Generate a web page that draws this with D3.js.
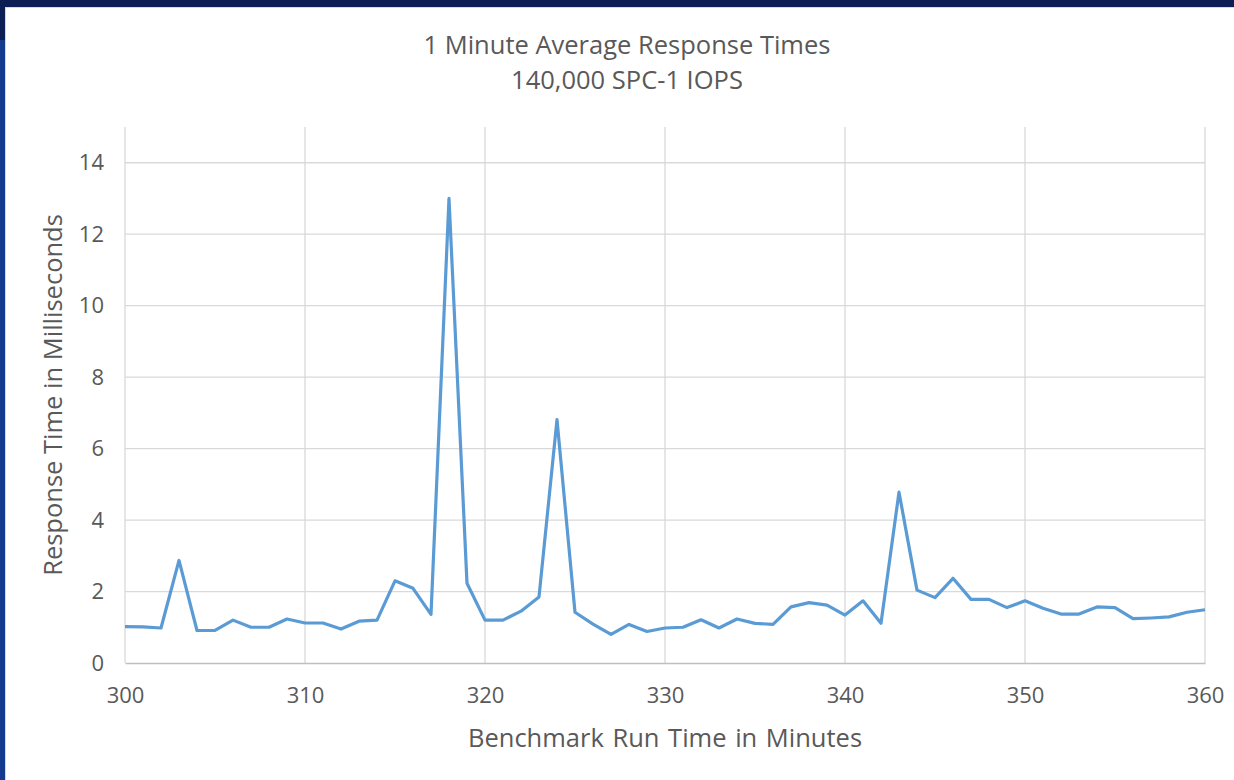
<!DOCTYPE html>
<html><head><meta charset="utf-8">
<script src="https://cdn.jsdelivr.net/npm/d3@7"></script>
<style>
html,body{margin:0;padding:0;background:#0b1f55;}
svg{display:block;}
text{font-family:"Open Sans","Noto Sans",sans-serif;fill:#595959;}
</style></head>
<body>
<script>
const minutes = d3.range(300, 361);
const responseMs = [
 1.02,1.01,0.98,2.87,0.91,0.91,1.2,1.0,1.0,1.23,
 1.12,1.12,0.95,1.17,1.2,2.3,2.09,1.36,13.0,2.23,
 1.2,1.2,1.45,1.85,6.81,1.42,1.09,0.8,1.08,0.88,
 0.98,1.0,1.21,0.98,1.23,1.11,1.08,1.57,1.69,1.62,
 1.34,1.74,1.11,4.78,2.04,1.83,2.37,1.78,1.78,1.55,
 1.74,1.53,1.37,1.37,1.57,1.55,1.24,1.26,1.29,1.42,1.49
];
const xTicks = [300,310,320,330,340,350,360];
const yTicks = [0,2,4,6,8,10,12,14];
const titleLines = ["1 Minute Average Response Times","140,000 SPC-1 IOPS"];
const xTitle = "Benchmark Run Time  in Minutes";
const yTitle = "Response Time in Milliseconds";

const W = 1234, H = 780;
const svg = d3.select("body").append("svg").attr("width", W).attr("height", H);
// frame
svg.append("rect").attr("x",0).attr("y",0).attr("width",W).attr("height",H).attr("fill","#0b1f55");
svg.append("rect").attr("x",0).attr("y",40).attr("width",6).attr("height",H-40).attr("fill","#133a8c");
svg.append("rect").attr("x",5).attr("y",7).attr("width",W-5).attr("height",H-7).attr("fill","#d9d9d9");
svg.append("rect").attr("x",6).attr("y",8).attr("width",W-6).attr("height",H-8).attr("fill","#ffffff");

const L = 125, R = 1205, T = 127, B = 663;
const x = d3.scaleLinear().domain([300,360]).range([L,R]);
const y = d3.scaleLinear().domain([0,15]).range([B,T]);

// horizontal gridlines
svg.append("g").selectAll("line").data(yTicks.filter(d=>d>0)).join("line")
  .attr("x1",L).attr("x2",R).attr("y1",d=>y(d)).attr("y2",d=>y(d))
  .attr("stroke","#d9d9d9").attr("stroke-width",1.3);
// vertical gridlines
svg.append("g").selectAll("line").data(xTicks).join("line")
  .attr("x1",d=>x(d)).attr("x2",d=>x(d)).attr("y1",T).attr("y2",B)
  .attr("stroke","#d9d9d9").attr("stroke-width",1.3);

// x axis
const xAxis = svg.append("g").attr("transform",`translate(0,${B})`)
  .call(d3.axisBottom(x).tickValues(xTicks).tickSize(0).tickPadding(24).tickFormat(d3.format("d")));
xAxis.select(".domain").attr("stroke","#bfbfbf").attr("stroke-width",1.5);
xAxis.selectAll("text").attr("font-size",22).attr("fill","#595959").style("font-family","Open Sans");

// y axis
const yAxis = svg.append("g").attr("transform",`translate(${L},0)`)
  .call(d3.axisLeft(y).tickValues(yTicks).tickSize(0).tickPadding(21));
yAxis.select(".domain").remove();
yAxis.selectAll("text").attr("font-size",22).attr("fill","#595959").style("font-family","Open Sans");

// line
svg.append("path").datum(minutes.map((m,i)=>[m,responseMs[i]]))
  .attr("fill","none").attr("stroke","#5b9bd5").attr("stroke-width",3.2)
  .attr("stroke-linejoin","round")
  .attr("d", d3.line().x(d=>x(d[0])).y(d=>y(d[1])));

// titles
svg.append("g").selectAll("text").data(titleLines).join("text")
  .attr("x",627).attr("y",(d,i)=>54+i*35).attr("text-anchor","middle")
  .attr("font-size",25.5).text(d=>d);
svg.append("text").attr("x",665).attr("y",747).attr("text-anchor","middle")
  .attr("font-size",25.5).style("word-spacing","2px").text(xTitle);
svg.append("text").attr("transform",`translate(62,395) rotate(-90)`).attr("text-anchor","middle")
  .attr("font-size",25.5).text(yTitle);
</script>
</body></html>
